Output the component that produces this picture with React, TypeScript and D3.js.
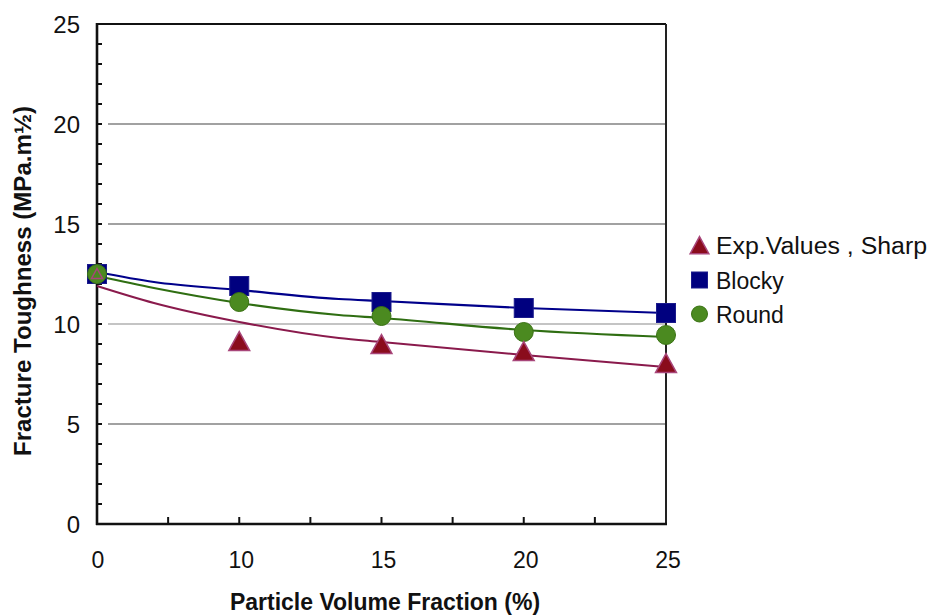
import React from "react";
import * as d3 from "d3";

const categories = ["0", "10", "15", "20", "25"];
const sharpValues = [12.5, 9.1, 8.95, 8.6, 8.0];
const blockyValues = [12.5, 11.9, 11.1, 10.8, 10.55];
const roundValues = [12.5, 11.1, 10.4, 9.6, 9.45];

// trend lines, read at category-index positions
const fitPositions = [0, 0.4, 1, 1.7, 2, 3, 4];
const sharpFit = [11.9, 11.05, 10.1, 9.3, 9.1, 8.45, 7.85];
const blockyFit = [12.6, 12.1, 11.7, 11.25, 11.15, 10.8, 10.55];
const roundFit = [12.4, 11.8, 11.05, 10.45, 10.3, 9.7, 9.35];

const yTicks = [0, 5, 10, 15, 20, 25];
const gridValues = [5, 10, 15, 20];
const legendLabels = ["Exp.Values , Sharp", "Blocky", "Round"];

const W = 930, H = 615;
const left = 97, right = 666, top = 24, bottom = 524;

export default function App() {
  const x = d3.scaleLinear().domain([0, categories.length - 1]).range([left, right]);
  const y = d3.scaleLinear().domain([0, 25]).range([bottom, top]);
  const line = d3
    .line<[number, number]>()
    .x((d) => x(d[0]))
    .y((d) => y(d[1]))
    .curve(d3.curveMonotoneX);
  const fitPath = (vals: number[]) => line(fitPositions.map((p, i) => [p, vals[i]]) as [number, number][]) || "";

  const minorY = d3.range(1, 25).filter((v) => v % 5 !== 0);
  const minorX = d3.range(0.5, categories.length - 1, 1);

  const tri = (cx: number, cy: number, s: number) =>
    `M${cx},${cy - s * 0.55}L${cx + s * 0.55},${cy + s * 0.45}L${cx - s * 0.55},${cy + s * 0.45}Z`;

  const font = "Liberation Sans, Arial, sans-serif";
  const triFill = "#8a0c1c", triStroke = "#a8467a";
  const sqFill = "#00007f", sqStroke = "#1b1b8c";
  const ciFill = "#4b8a20", ciStroke = "#3a7214";

  return (
    <svg width={W} height={H} style={{ position: "absolute", left: 0, top: 0, background: "#fff" }} fontFamily={font}>
      <rect width={W} height={H} fill="#fff" />
      {/* grid */}
      {gridValues.map((v) => (
        <line key={"g" + v} x1={left + 11} x2={right} y1={y(v)} y2={y(v)} stroke={v === 10 ? "#8a8a8a" : "#444"} strokeWidth={1.2} />
      ))}
      {/* box */}
      <line x1={left} x2={right} y1={top} y2={top} stroke="#111" strokeWidth={2} />
      <line x1={right} x2={right} y1={top} y2={bottom} stroke="#222" strokeWidth={2} />
      <line x1={left} x2={left} y1={top - 1} y2={bottom + 1} stroke="#111" strokeWidth={2.6} />
      <line x1={left - 1} x2={right + 1} y1={bottom} y2={bottom} stroke="#111" strokeWidth={2.6} />
      {/* y ticks */}
      {minorY.concat(yTicks).map((v) => (
        <line key={"yt" + v} x1={left} x2={left + 5} y1={y(v)} y2={y(v)} stroke="#111" strokeWidth={2} />
      ))}
      {yTicks.map((v) => (
        <text key={"yl" + v} x={80} y={y(v)} dy="0.36em" textAnchor="end" fontSize={24} fill="#111">
          {v}
        </text>
      ))}
      {/* x ticks */}
      {minorX.concat(d3.range(1, categories.length - 1)).map((p) => (
        <line key={"xt" + p} x1={x(p)} x2={x(p)} y1={bottom} y2={bottom - 7} stroke="#111" strokeWidth={2} />
      ))}
      {categories.map((c, i) => (
        <text key={"xl" + c} x={x(i) + (i === 0 ? 1 : 2)} y={568} textAnchor="middle" fontSize={23} fill="#111">
          {c}
        </text>
      ))}
      {/* axis titles */}
      <text x={385} y={610} textAnchor="middle" fontSize={23} fontWeight="bold" fill="#111">
        Particle Volume Fraction (%)
      </text>
      <text transform={`translate(31,281) rotate(-90)`} textAnchor="middle" fontSize={23} fontWeight="bold" fill="#111" textLength={350} lengthAdjust="spacingAndGlyphs">
        Fracture Toughness (MPa.m½)
      </text>
      {/* fit lines */}
      <path d={fitPath(blockyFit)} fill="none" stroke="#00008b" strokeWidth={2.2} />
      <path d={fitPath(roundFit)} fill="none" stroke="#2f6e12" strokeWidth={2.2} />
      <path d={fitPath(sharpFit)} fill="none" stroke="#8a1a4c" strokeWidth={2} />
      {/* markers */}
      {blockyValues.map((v, i) => (
        <rect key={"b" + i} x={x(i) - 9.5} y={y(v) - 9.5} width={19} height={19} fill={sqFill} stroke={sqStroke} strokeWidth={1} />
      ))}
      {roundValues.map((v, i) => (
        <circle key={"r" + i} cx={x(i)} cy={y(v)} r={9.5} fill={ciFill} stroke={ciStroke} strokeWidth={1} />
      ))}
      {sharpValues.map((v, i) => (
        <path key={"s" + i} d={tri(x(i), y(v), i === 0 ? 10 : 19)} fill={i === 0 ? "none" : triFill} stroke={triStroke} strokeWidth={1.5} />
      ))}
      {/* legend */}
      <path d={tri(699.5, 246, 17)} fill={triFill} stroke={triStroke} strokeWidth={1.5} />
      <rect x={691.5} y={272} width={16} height={16} fill={sqFill} stroke={sqStroke} />
      <circle cx={699.5} cy={314} r={8} fill={ciFill} stroke={ciStroke} />
      {legendLabels.map((l, i) => (
        <text key={l} x={716} y={246 + i * 34.5} dy="0.36em" fontSize={23} fill="#111"
          {...(i === 0 ? { textLength: 211, lengthAdjust: "spacingAndGlyphs" } : {})}>
          {l}
        </text>
      ))}
    </svg>
  );
}
